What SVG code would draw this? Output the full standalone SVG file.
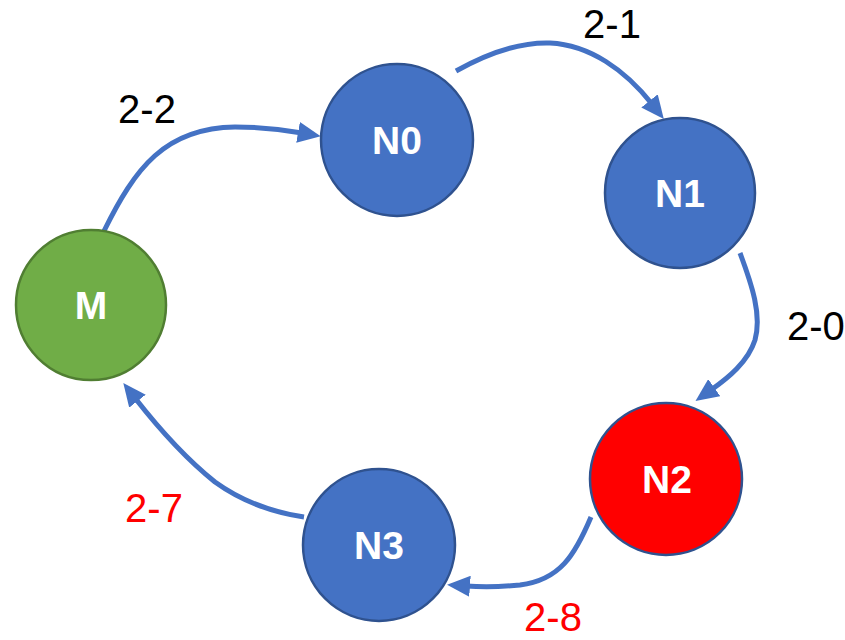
<svg xmlns="http://www.w3.org/2000/svg" width="845" height="640" viewBox="0 0 845 640">
<style>
.node{stroke:#2F528F;stroke-width:2.5}
.blue{fill:#4472C4}
.green{fill:#70AD47;stroke:#507E32}
.red{fill:#FF0000}
.nl{font-family:"Liberation Sans",Arial,sans-serif;font-weight:bold;font-size:39px;fill:#FFFFFF;text-anchor:middle}
.el{font-family:"Liberation Sans",Arial,sans-serif;font-size:40px;text-anchor:middle}
.conn{fill:none;stroke:#4472C4;stroke-width:5;marker-end:url(#ah)}
</style>
<defs>
<marker id="ah" markerUnits="userSpaceOnUse" markerWidth="23" markerHeight="21" refX="4" refY="10.5" orient="auto">
<path d="M0,0 L23,10.5 L0,21 z" fill="#4472C4"/>
</marker>
</defs>
<g id="connectors">
<path class="conn" d="M104,231 C135,168 165,128 235,127 C265,127 285,130 302,133"/>
<path class="conn" d="M456,71 C490,52 520,42 550,43 C590,45 625,70 652,104"/>
<path class="conn" d="M740,253 C752,285 762,315 755,340 C748,362 728,378 711,390"/>
<path class="conn" d="M591,517 C575,555 560,580 520,585 C500,587 480,587 466,586"/>
<path class="conn" d="M304,517 C270,512 240,500 215,482 C190,462 160,430 135,398"/>
</g>
<g id="labels">
<text class="el" x="147" y="123" fill="#000000">2-2</text>
<text class="el" x="612" y="38" fill="#000000">2-1</text>
<text class="el" x="787" y="340" fill="#000000" style="text-anchor:start">2-0</text>
<text class="el" x="154" y="522" fill="#FF0000">2-7</text>
<text class="el" x="553" y="631" fill="#FF0000">2-8</text>
</g>
<g id="M"><circle class="node green" cx="91" cy="305" r="75"/><text class="nl" x="91" y="319">M</text></g>
<g id="N0"><circle class="node blue" cx="397" cy="140" r="76"/><text class="nl" x="397" y="154">N0</text></g>
<g id="N1"><circle class="node blue" cx="680" cy="193" r="75"/><text class="nl" x="680" y="207">N1</text></g>
<g id="N2"><circle class="node red" cx="666" cy="479" r="76"/><text class="nl" x="667" y="493">N2</text></g>
<g id="N3"><circle class="node blue" cx="379" cy="545" r="76"/><text class="nl" x="379" y="559">N3</text></g>
</svg>
